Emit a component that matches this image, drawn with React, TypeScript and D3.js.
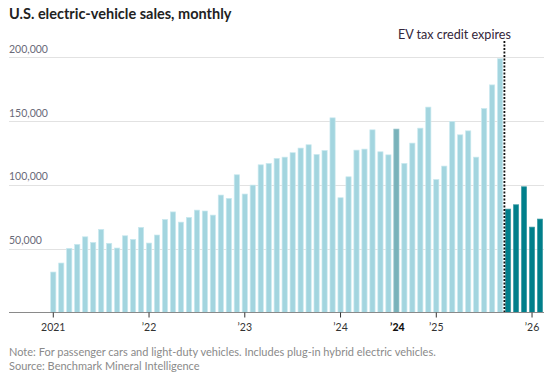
import React from "react";
import * as d3 from "d3";

const months: string[] = (() => {
  const out: string[] = [];
  for (let y = 2021; y <= 2026; y++) {
    for (let m = 1; m <= 12; m++) {
      if (y === 2026 && m > 2) break;
      out.push(`${y}-${String(m).padStart(2, "0")}`);
    }
  }
  return out;
})();

const sales2021 = [31700, 38750, 50250, 53400, 59300, 54900, 65100, 54200, 50500, 60100, 57300, 66700];
const sales2022 = [54400, 60700, 72900, 78800, 70800, 74500, 80200, 79500, 76300, 92000, 89400, 107900];
const sales2023 = [92800, 99800, 115700, 116800, 120700, 121700, 125200, 128800, 131400, 123800, 126900, 152500];
const sales2024 = [89900, 106300, 127200, 128000, 143100, 125900, 123500, 143700, 116800, 132700, 144400, 160900];
const sales2025 = [104200, 114700, 149600, 139200, 142300, 121700, 159800, 178300, 198800, 81000, 84400, 98500];
const sales2026 = [66900, 73200];

const values = [...sales2021, ...sales2022, ...sales2023, ...sales2024, ...sales2025, ...sales2026];

const yTicks = [50000, 100000, 150000, 200000];
const xTickMonths = ["2021-01", "2022-01", "2023-01", "2024-01", "2025-01", "2026-01"];
const xTickLabels = ["2021", "\u201922", "\u201923", "\u201924", "\u201925", "\u201926"];
const highlightMonth = "2024-08";
const highlightLabel = "\u201924";
const creditExpiryAfter = "2025-09";

const data = months.map((m, i) => ({ month: m, value: values[i] }));

export default function App() {
  const W = 550, H = 379;
  const gridLeft = 9, gridRight = 544;
  const x = d3.scaleBand<string>().domain(months).range([49.3, 544]).paddingInner(0.35).paddingOuter(0.175);
  const y = d3.scaleLinear().domain([0, 200000]).range([312.5, 57.2]);
  const fmt = d3.format(",");
  const cx = (m: string) => (x(m) as number) + x.bandwidth() / 2;
  const expiryIdx = months.indexOf(creditExpiryAfter);
  const dashX = (x(creditExpiryAfter) as number) + x.step() - (x.step() - x.bandwidth()) / 2 + 0.3;
  const font = "Lato, 'Open Sans', sans-serif";

  return (
    <svg width={W} height={H} style={{ position: "absolute", left: 0, top: 0, background: "#fff" }} fontFamily={font}>
      <text x={9} y={19} fontSize={14.5} fontWeight={700} fill="#222">U.S. electric-vehicle sales, monthly</text>
      {yTicks.map((t) => (
        <g key={t}>
          <line x1={gridLeft} x2={gridRight} y1={Math.round(y(t)) + 0.5} y2={Math.round(y(t)) + 0.5} stroke="#e2e2e2" strokeWidth={1} />
          <text x={gridLeft} y={y(t) - 4.5} fontSize={10.5} fill="#6a6a78">{fmt(t)}</text>
        </g>
      ))}
      {data.map((d, i) => {
        const after = i > expiryIdx;
        const hl = d.month === highlightMonth;
        const fill = after ? "#007f8b" : hl ? "#79b2ba" : "#a3d5df";
        const stroke = after ? "#3d9ba4" : hl ? "#9cc8ce" : "#c9e9ef";
        return (
          <rect key={d.month} x={x(d.month)} y={y(d.value)} width={x.bandwidth()} height={y(0) - y(d.value)}
            fill={fill} stroke={stroke} strokeWidth={0.7} />
        );
      })}
      <line x1={gridLeft} x2={gridRight} y1={312.5} y2={312.5} stroke="#8a8a8a" strokeWidth={1.2} />
      {xTickMonths.map((m, i) => (
        <g key={m}>
          <line x1={cx(m)} x2={cx(m)} y1={312.5} y2={317.5} stroke="#333" strokeWidth={1} />
          <text x={cx(m)} y={331} fontSize={10.5} textAnchor="middle" fill="#333">{xTickLabels[i]}</text>
        </g>
      ))}
      <text x={cx(highlightMonth)+1} y={331} fontSize={10.5} fontWeight={900} textAnchor="middle" fill="#111">{highlightLabel}</text>
      <line x1={dashX} x2={dashX} y1={41} y2={312} stroke="#111" strokeWidth={1.8} strokeDasharray="2,1.5" />
      <text x={dashX + 6.5} y={38.5} fontSize={12.6} textAnchor="end" fill="#33263a">EV tax credit expires</text>
      <text x={9} y={356} fontSize={11} fill="#8a8a8a">Note: For passenger cars and light-duty vehicles. Includes plug-in hybrid electric vehicles.</text>
      <text x={9} y={370} fontSize={11} fill="#8a8a8a">Source: Benchmark Mineral Intelligence</text>
    </svg>
  );
}
